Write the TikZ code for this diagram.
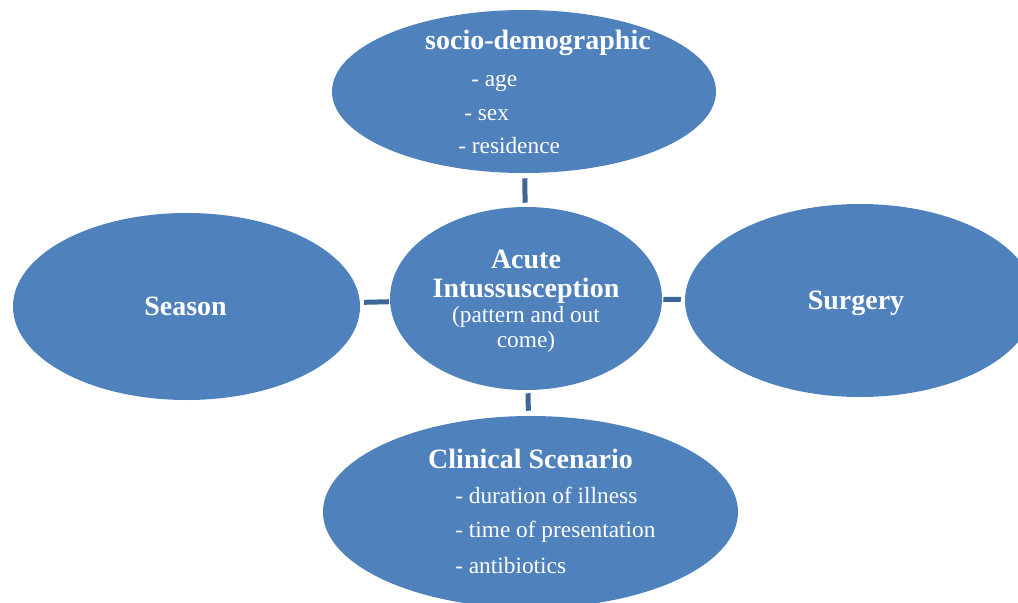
\documentclass[tikz,border=0pt]{standalone}
\usepackage{fontspec}
\setmainfont{Liberation Serif}
\usetikzlibrary{shapes.geometric}
\definecolor{fillblue}{HTML}{4F81BD}
\definecolor{connblue}{HTML}{3D6797}
\begin{document}
\begin{tikzpicture}[x=0.75pt,y=-0.75pt,
  bubble/.style={ellipse, fill=fillblue, draw=none, inner sep=0pt},
  conn/.style={draw=connblue, line width=3.75pt},
  title/.style={text=white, font=\fontsize{21}{25}\selectfont\bfseries, inner sep=0pt, anchor=base},
  sub/.style={text=white, font=\fontsize{17.5}{21}\selectfont, inner sep=0pt, anchor=base},
  item/.style={text=white, font=\fontsize{17.5}{21}\selectfont, inner sep=0pt, anchor=base west}]
\clip (0,0) rectangle (1018,603);
\fill[white] (0,0) rectangle (1018,603);

% ellipses
\node[bubble, minimum width=288pt, minimum height=122.25pt] (socio) at (524,91.5) {};
\node[bubble, minimum width=204pt, minimum height=137.25pt] (acute) at (526,298.5) {};
\node[bubble, minimum width=260.25pt, minimum height=140.25pt] (season) at (186.5,306.5) {};
\node[bubble, minimum width=262.5pt, minimum height=144.75pt] (surgery) at (860,300.5) {};
\node[bubble, minimum width=311.25pt, minimum height=144pt] (clinical) at (530.5,512) {};

% connectors
\draw[conn, shorten <=3.75pt, shorten >=3pt] (socio) -- (acute);
\draw[conn, shorten <=3pt, shorten >=0.75pt] (season) -- (acute);
\draw[conn, shorten <=0.75pt, shorten >=3pt] (acute) -- (surgery);
\draw[conn, shorten <=2.25pt, shorten >=3.75pt] (acute) -- (clinical);

% texts: socio-demographic
\node[title] (sociot) at (538,50) {socio-demographic};
\node[item] (age) at (471,86) {- age};
\node[item] (sex) at (464,120) {- sex};
\node[item] (res) at (458,153) {- residence};

% center
\node[title] (acutet) at (526,268) {Acute};
\node[title] (intus) at (526,297) {Intussusception};
\node[sub] (patt) at (526,322) {(pattern and out};
\node[sub] (come) at (526,347) {come)};

% season / surgery
\node[title] (seasont) at (185.5,315) {Season};
\node[title] (surgeryt) at (856,309) {Surgery};

% clinical
\node[title] (clint) at (530.5,468) {Clinical Scenario};
\node[item] (dur) at (455,503) {- duration of illness};
\node[item] (time) at (455,537) {- time of presentation};
\node[item] (anti) at (455,573) {- antibiotics};
\end{tikzpicture}
\end{document}
